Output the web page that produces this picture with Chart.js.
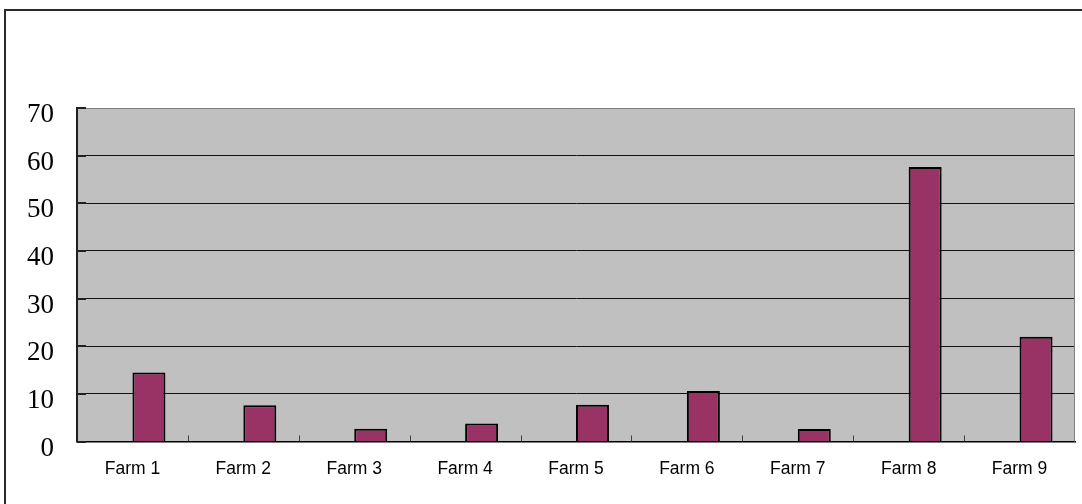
<!DOCTYPE html>
<html>
<head>
<meta charset="utf-8">
<script src="https://cdn.jsdelivr.net/npm/chart.js@4/dist/chart.umd.min.js"></script>
<style>
  html, body { margin: 0; padding: 0; background: #ffffff; }
  #wrap { width: 1082px; height: 504px; position: relative; }
</style>
</head>
<body>
<div id="wrap"><canvas id="c" width="1082" height="504"></canvas></div>
<script>
// Category labels along the bottom axis
const categories = ['Farm 1', 'Farm 2', 'Farm 3', 'Farm 4', 'Farm 5', 'Farm 6', 'Farm 7', 'Farm 8', 'Farm 9'];
// Values per farm
const farmValues = [14.5, 7.6, 2.7, 3.8, 7.7, 10.6, 2.6, 57.6, 22.0];
// Blank companion series: keeps each bar in the right half of its category slot
const blankSeries = [null, null, null, null, null, null, null, null, null];
// Value axis
const yMin = 0;
const yMax = 70;
const yStep = 10;

// Grey plot background, outer frame and plot border
const framePlugin = {
  id: 'frame',
  beforeDraw(chart) {
    const { ctx, chartArea: a } = chart;
    ctx.save();
    ctx.fillStyle = '#ffffff';
    ctx.fillRect(0, 0, chart.width, chart.height);
    // outer frame (runs off the right and bottom edges)
    ctx.strokeStyle = '#2a2a2a';
    ctx.lineWidth = 2;
    ctx.strokeRect(5, 10, chart.width + 20, chart.height + 20);
    ctx.fillStyle = '#c0c0c0';
    ctx.fillRect(a.left, a.top, a.right - a.left, a.bottom - a.top);
    ctx.restore();
  },
  beforeDatasetsDraw(chart) {
    const { ctx, chartArea: a, scales } = chart;
    ctx.save();
    // top and right plot border
    ctx.strokeStyle = '#808080';
    ctx.lineWidth = 1;
    ctx.beginPath();
    ctx.moveTo(a.left, a.top + 0.5);
    ctx.lineTo(a.right - 0.5, a.top + 0.5);
    ctx.lineTo(a.right - 0.5, a.bottom);
    ctx.stroke();
    // short inward tick marks between categories
    const x = scales.x;
    const half = (x.getPixelForValue(1) - x.getPixelForValue(0)) / 2;
    ctx.strokeStyle = '#404040';
    ctx.beginPath();
    for (let i = 0; i < categories.length - 1; i++) {
      const px = Math.round(x.getPixelForValue(i) + half) + 0.5;
      ctx.moveTo(px, a.bottom);
      ctx.lineTo(px, a.bottom - 6);
    }
    ctx.stroke();
    // short inward ticks on the value axis
    const y = scales.y;
    ctx.strokeStyle = '#202020';
    ctx.lineWidth = 2;
    ctx.beginPath();
    for (let v = yMin; v <= yMax; v += yStep) {
      const py = Math.round(y.getPixelForValue(v));
      ctx.moveTo(a.left, py);
      ctx.lineTo(a.left + 9, py);
    }
    ctx.stroke();
    ctx.restore();
  }
};

new Chart(document.getElementById('c'), {
  type: 'bar',
  data: {
    labels: categories,
    datasets: [
      {
        label: 'blank',
        data: blankSeries,
        backgroundColor: 'rgba(0,0,0,0)',
        borderWidth: 0
      },
      {
        label: 'Farms',
        data: farmValues,
        backgroundColor: '#993366',
        borderColor: '#000000',
        borderWidth: 2,
        borderSkipped: 'bottom'
      }
    ]
  },
  options: {
    responsive: false,
    animation: false,
    devicePixelRatio: 1,
    layout: { padding: { left: 0, right: 7, top: 108, bottom: 0 } },
    plugins: {
      legend: { display: false },
      tooltip: { enabled: false }
    },
    datasets: {
      bar: { categoryPercentage: 0.595, barPercentage: 1.0 }
    },
    scales: {
      x: {
        grid: { display: false, drawTicks: false },
        border: { display: true, color: '#000000', width: 1.5 },
        ticks: {
          padding: 17,
          color: '#000000',
          font: { family: "'Liberation Sans', Arial, sans-serif", size: 17.5 }
        },
        afterFit(scale) { scale.height = 62.5; }
      },
      y: {
        min: yMin,
        max: yMax,
        grid: {
          drawTicks: false,
          color: (ctx) => (ctx.tick && ctx.tick.value === yMax) ? 'rgba(0,0,0,0)' : '#111111',
          lineWidth: 1
        },
        border: { display: true, color: '#202020', width: 2 },
        ticks: {
          stepSize: yStep,
          padding: 23,
          labelOffset: 7,
          color: '#000000',
          font: { family: "'Liberation Serif', 'Times New Roman', serif", size: 27 }
        },
        afterFit(scale) { scale.width = 77; }
      }
    }
  },
  plugins: [framePlugin]
});
</script>
</body>
</html>
